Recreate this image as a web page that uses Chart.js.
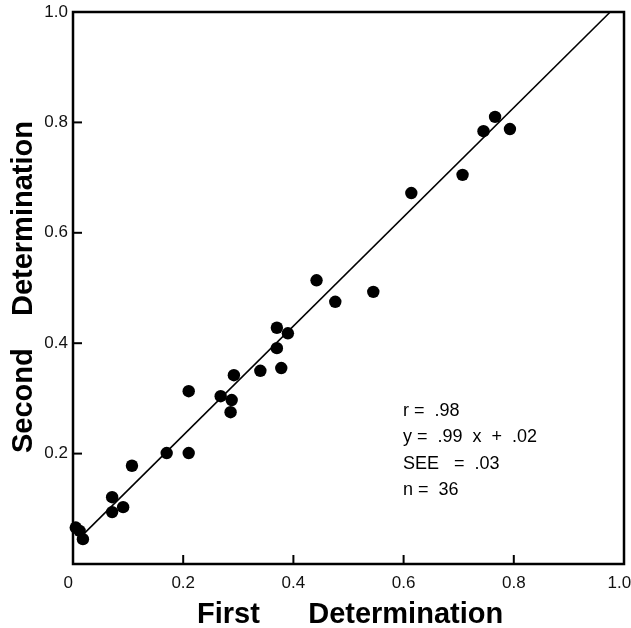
<!DOCTYPE html>
<html>
<head>
<meta charset="utf-8">
<script src="https://cdn.jsdelivr.net/npm/chart.js@4/dist/chart.umd.min.js"></script>
<style>
  html, body { margin: 0; padding: 0; background: #ffffff; }
  #wrap { width: 631px; height: 628px; }
</style>
</head>
<body>
<div id="wrap"><canvas id="c" width="631" height="628"></canvas></div>
<script>
// ---- data ----
const firstDetermination = [0.005, 0.012, 0.018, 0.071, 0.071, 0.091, 0.107, 0.170, 0.210, 0.210,
  0.268, 0.288, 0.286, 0.292, 0.340, 0.370, 0.390, 0.370, 0.378, 0.442,
  0.476, 0.545, 0.614, 0.707, 0.745, 0.766, 0.793];
const secondDetermination = [0.066, 0.060, 0.045, 0.121, 0.094, 0.103, 0.178, 0.201, 0.201, 0.313,
  0.304, 0.297, 0.275, 0.342, 0.350, 0.428, 0.418, 0.391, 0.355, 0.514,
  0.475, 0.493, 0.672, 0.705, 0.784, 0.810, 0.788];
const fitLineX = [0.015, 0.975];
const fitLineY = [0.050, 1.000];
const statsLines = ["r =  .98", "y =  .99  x  +  .02", "SEE   =  .03", "n =  36"];
const xTitle = "First      Determination";
const yTitle = "Second    Determination";

const points = firstDetermination.map((v, i) => ({ x: v, y: secondDetermination[i] }));
const linePts = fitLineX.map((v, i) => ({ x: v, y: fitLineY[i] }));

const overlay = {
  id: 'overlay',
  afterDraw(chart) {
    const { ctx, chartArea: a, scales } = chart;
    const xs = scales.x, ys = scales.y;
    ctx.save();
    ctx.strokeStyle = '#000';
    ctx.lineWidth = 2.5;
    ctx.strokeRect(a.left, a.top, a.right - a.left, a.bottom - a.top);
    ctx.lineWidth = 2;
    xs.ticks.forEach(t => {
      if (t.value > 1e-9 && t.value < 1 - 1e-9) {
        const px = xs.getPixelForValue(t.value);
        ctx.beginPath(); ctx.moveTo(px, a.bottom); ctx.lineTo(px, a.bottom - 9); ctx.stroke();
      }
    });
    ys.ticks.forEach(t => {
      if (t.value > 1e-9 && t.value < 1 - 1e-9) {
        const py = ys.getPixelForValue(t.value);
        ctx.beginPath(); ctx.moveTo(a.left, py); ctx.lineTo(a.left + 9, py); ctx.stroke();
      }
    });
    ctx.fillStyle = '#000';
    ctx.font = 'bold 29px "Liberation Sans", Arial, sans-serif';
    ctx.textAlign = 'left';
    ctx.textBaseline = 'alphabetic';
    ctx.fillText(xTitle, 197, 623);
    ctx.save();
    ctx.translate(32, 453);
    ctx.rotate(-Math.PI / 2);
    ctx.fillText(yTitle, 0, 0);
    ctx.restore();
    ctx.font = '18px "Liberation Sans", Arial, sans-serif';
    statsLines.forEach((s, i) => ctx.fillText(s, 403, 416 + i * 26.3));
    ctx.restore();
  }
};

new Chart(document.getElementById('c'), {
  type: 'scatter',
  data: {
    datasets: [
      {
        type: 'line',
        data: linePts,
        borderColor: '#000',
        borderWidth: 1.6,
        pointRadius: 0,
        fill: false,
        clip: false
      },
      {
        data: points,
        backgroundColor: '#000',
        borderColor: '#000',
        pointRadius: 6.2,
        pointHoverRadius: 6.2,
        borderWidth: 0,
        clip: false
      }
    ]
  },
  options: {
    responsive: false,
    devicePixelRatio: 1,
    animation: false,
    events: [],
    layout: { padding: { top: 12, right: 7, left: 0, bottom: 0 } },
    plugins: { legend: { display: false }, tooltip: { enabled: false } },
    scales: {
      x: {
        type: 'linear', min: 0, max: 1,
        grid: { display: false, drawTicks: false },
        border: { display: false },
        ticks: {
          stepSize: 0.2, padding: 9, color: '#111', maxRotation: 0,
          font: { family: '"Liberation Sans", Arial, sans-serif', size: 17 },
          callback: (v) => v < 1e-9 ? '0  ' : (v > 1 - 1e-9 ? '1.0  ' : v.toFixed(1))
        },
        afterFit(s) { s.height = 64; s.paddingLeft = 0; s.paddingRight = 0; }
      },
      y: {
        type: 'linear', min: 0, max: 1,
        grid: { display: false, drawTicks: false },
        border: { display: false },
        ticks: {
          stepSize: 0.2, padding: 5, color: '#111',
          font: { family: '"Liberation Sans", Arial, sans-serif', size: 17 },
          callback: (v) => v < 1e-9 ? '' : v.toFixed(1)
        },
        afterFit(s) { s.width = 73; s.paddingTop = 0; s.paddingBottom = 0; }
      }
    }
  },
  plugins: [overlay]
});
</script>
</body>
</html>
